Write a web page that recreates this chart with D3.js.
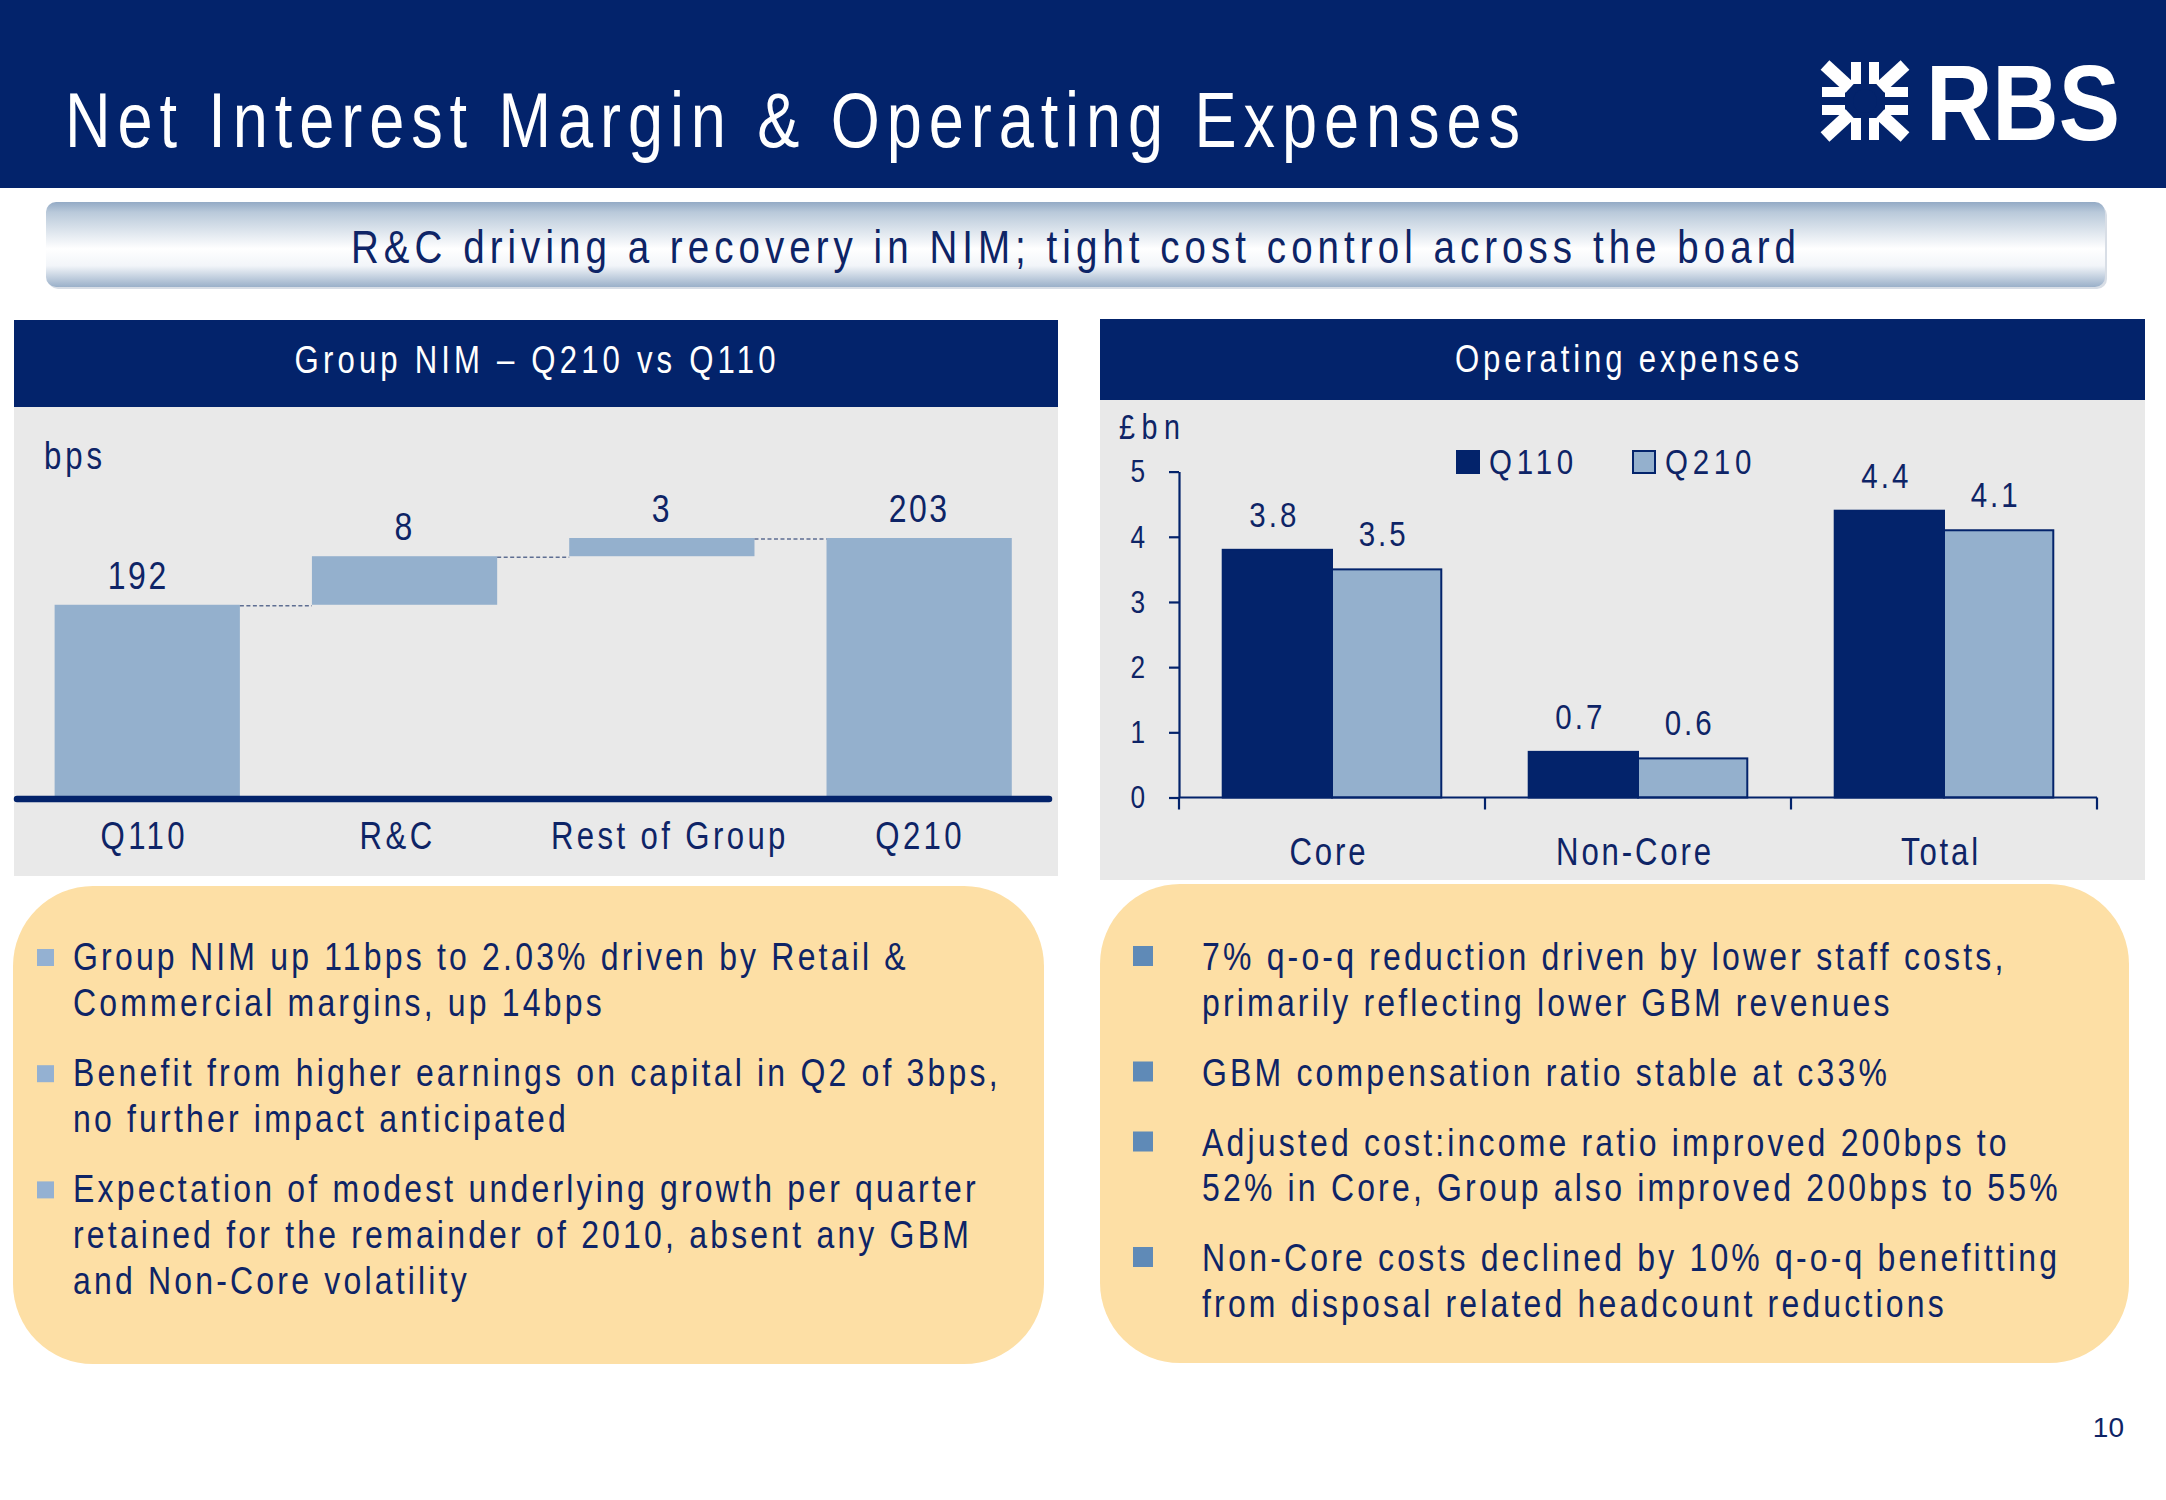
<!DOCTYPE html>
<html><head><meta charset="utf-8">
<script src="https://cdn.jsdelivr.net/npm/d3@7"></script>
<style>
html,body{margin:0;padding:0;background:#fff;}
svg text{font-family:"Liberation Sans",Arial,Helvetica,sans-serif;}
</style></head><body>
<svg id="c" width="2166" height="1500"></svg>
<script>
// ---------------- DATA ----------------
const pageTitle = "Net Interest Margin & Operating Expenses";
const subTitle = "R&C driving a recovery in NIM; tight cost control across the board";
const nimTitle = "Group NIM \u2013 Q210 vs Q110";
const nimUnit = "bps";
const nimCategories = ["Q110", "R&C", "Rest of Group", "Q210"];
const nimValues = [192, 8, 3, 203];
const nimKinds = ["total", "delta", "delta", "total"];

const opexTitle = "Operating expenses";
const opexUnit = "\u00a3bn";
const opexCategories = ["Core", "Non-Core", "Total"];
const opexSeries = ["Q110", "Q210"];
const opexQ110 = [3.8, 0.7, 4.4];
const opexQ210 = [3.5, 0.6, 4.1];
const opexTicks = [0, 1, 2, 3, 4, 5];

const leftBullets = [
  ["Group NIM up 11bps to 2.03% driven by Retail &", "Commercial margins, up 14bps"],
  ["Benefit from higher earnings on capital in Q2 of 3bps,", "no further impact anticipated"],
  ["Expectation of modest underlying growth per quarter", "retained for the remainder of 2010, absent any GBM", "and Non-Core volatility"]
];
const rightBullets = [
  ["7% q-o-q reduction driven by lower staff costs,", "primarily reflecting lower GBM revenues"],
  ["GBM compensation ratio stable at c33%"],
  ["Adjusted cost:income ratio improved 200bps to", "52% in Core, Group also improved 200bps to 55%"],
  ["Non-Core costs declined by 10% q-o-q benefitting", "from disposal related headcount reductions"]
];
const pageNumber = "10";

// ---------------- STYLE ----------------
const NAVY = "#03236B";
const TXT = "#0E2466";
const LIGHT = "#94B0CD";
const GRAY = "#E9E9E9";
const PEACH = "#FDDFA5";
const SX = 0.82;   // horizontal condensing, to mimic a narrow face

const svg = d3.select("#c");
const defs = svg.append("defs");

function at(sel, x, y) {
  return sel.attr("transform", (d, i) => {
    const xx = typeof x === "function" ? x(d, i) : x;
    const yy = typeof y === "function" ? y(d, i) : y;
    return `translate(${xx},${yy}) scale(${SX},1)`;
  });
}
function fit(sel, w) { return sel.attr("textLength", w / SX).attr("lengthAdjust", "spacing"); }
function spacingFor(sample, size, target) {
  const t = svg.append("text").attr("font-size", size).text(sample);
  const w = t.node().getComputedTextLength();
  t.remove();
  return (target / SX - w) / sample.length;
}

// ---------------- HEADER ----------------
svg.append("rect").attr("x", 0).attr("y", 0).attr("width", 2166).attr("height", 188).attr("fill", NAVY);
fit(at(svg.append("text"), 65, 147).attr("font-size", 77).attr("fill", "#fff").text(pageTitle), 1455);

// RBS logo
const logo = svg.append("g").attr("transform", "translate(1865,101)");
[[-1,-1],[1,-1],[1,1],[-1,1]].forEach(([sx, sy]) => {
  logo.append("line").attr("x1", sx * 15).attr("y1", sy * 13).attr("x2", sx * 40).attr("y2", sy * 36)
    .attr("stroke", "#fff").attr("stroke-width", 13);
});
[-1, 1].forEach(s => {
  [-9, 9].forEach(o => {
    logo.append("rect").attr("x", o - 5).attr("y", s < 0 ? -39 : 17).attr("width", 10).attr("height", 22).attr("fill", "#fff");
    logo.append("rect").attr("x", s < 0 ? -43 : 20).attr("y", o - 5).attr("width", 23).attr("height", 10).attr("fill", "#fff");
  });
});
logo.append("circle").attr("r", 12).attr("fill", NAVY);
svg.append("text").attr("transform", "translate(1926,140) scale(0.9,1)").attr("font-size", 108).attr("font-weight", "bold")
  .attr("fill", "#fff").attr("textLength", 194 / 0.9).attr("lengthAdjust", "spacingAndGlyphs").text("RBS");

// Subtitle banner
const g1 = defs.append("linearGradient").attr("id", "ban").attr("x1", 0).attr("x2", 0).attr("y1", 0).attr("y2", 1);
[["0%", "#93AAC5"], ["12%", "#B9C9DA"], ["55%", "#FFFFFF"], ["75%", "#F2F5F9"], ["100%", "#9AB0C9"]].forEach(([o, c]) =>
  g1.append("stop").attr("offset", o).attr("stop-color", c));
svg.append("rect").attr("x", 48).attr("y", 205).attr("width", 2059).attr("height", 84).attr("rx", 10).attr("fill", "#D8DEE6");
svg.append("rect").attr("x", 46).attr("y", 202).attr("width", 2059).attr("height", 85).attr("rx", 10).attr("fill", "url(#ban)");
fit(at(svg.append("text"), 1073.5, 263).attr("text-anchor", "middle").attr("font-size", 47).attr("fill", TXT).text(subTitle), 1445);

// ---------------- LEFT PANEL (NIM waterfall) ----------------
svg.append("rect").attr("x", 14).attr("y", 320).attr("width", 1044).attr("height", 87).attr("fill", NAVY);
svg.append("rect").attr("x", 14).attr("y", 407).attr("width", 1044).attr("height", 469).attr("fill", GRAY);
fit(at(svg.append("text"), 535, 373).attr("text-anchor", "middle").attr("font-size", 38).attr("fill", "#fff").text(nimTitle), 481);
fit(at(svg.append("text"), 44, 469).attr("font-size", 38).attr("fill", TXT).text(nimUnit), 58);

const xN = d3.scaleBand().domain(nimCategories).range([18.6, 1047.8]).paddingInner(0.28).paddingOuter(0.14);
const yN = d3.scaleLinear().domain([160, 203]).range([799, 538]);

let run = 0;
const wf = nimCategories.map((c, i) => {
  let lo, hi;
  if (nimKinds[i] === "total") { lo = yN.domain()[0]; hi = nimValues[i]; run = nimValues[i]; }
  else { lo = run; hi = run + nimValues[i]; run = hi; }
  return { c, v: nimValues[i], lo, hi, end: run };
});
const gN = svg.append("g");
gN.selectAll("rect.bar").data(wf).join("rect").attr("class", "bar")
  .attr("x", d => xN(d.c)).attr("width", xN.bandwidth())
  .attr("y", d => yN(d.hi)).attr("height", d => yN(d.lo) - yN(d.hi)).attr("fill", LIGHT);
gN.selectAll("line.conn").data(wf.slice(0, -1)).join("line").attr("class", "conn")
  .attr("x1", d => xN(d.c) + xN.bandwidth()).attr("x2", (d, i) => xN(wf[i + 1].c))
  .attr("y1", d => yN(d.end) + 1).attr("y2", d => yN(d.end) + 1)
  .attr("stroke", "#5E6E92").attr("stroke-width", 1.5).attr("stroke-dasharray", "4,2.5");
gN.append("line").attr("x1", 17).attr("x2", 1049).attr("y1", 799).attr("y2", 799)
  .attr("stroke", NAVY).attr("stroke-width", 6.5).attr("stroke-linecap", "round");
const lsNv = spacingFor("203", 39, 61);
at(gN.selectAll("text.val").data(wf).join("text").attr("class", "val"),
   d => xN(d.c) + xN.bandwidth() / 2 - (d.c === "Q110" ? 9 : 0), d => yN(d.hi) - 16)
  .attr("text-anchor", "middle").attr("font-size", 39).attr("letter-spacing", lsNv).attr("fill", TXT).text(d => d.v);
const lsNc = spacingFor("Rest of Group", 38, 238);
const catShift = { "Q110": -3, "R&C": -7, "Rest of Group": 8, "Q210": 1 };
at(gN.selectAll("text.cat").data(nimCategories).join("text").attr("class", "cat"),
   d => xN(d) + xN.bandwidth() / 2 + catShift[d], 849)
  .attr("text-anchor", "middle").attr("font-size", 38).attr("letter-spacing", lsNc).attr("fill", TXT).text(d => d);

// ---------------- RIGHT PANEL (Opex grouped bars) ----------------
svg.append("rect").attr("x", 1100).attr("y", 319).attr("width", 1045).attr("height", 81).attr("fill", NAVY);
svg.append("rect").attr("x", 1100).attr("y", 400).attr("width", 1045).attr("height", 480).attr("fill", GRAY);
fit(at(svg.append("text"), 1627, 372).attr("text-anchor", "middle").attr("font-size", 38).attr("fill", "#fff").text(opexTitle), 344);
fit(at(svg.append("text"), 1119, 439).attr("font-size", 35).attr("fill", TXT).text(opexUnit), 61);

const x0 = d3.scaleBand().domain(opexCategories).range([1179, 2097]).padding(0);
const x1 = d3.scaleBand().domain(opexSeries).range([0, x0.bandwidth()]).paddingInner(0).paddingOuter(0.4);
const yO = d3.scaleLinear().domain([0, 5]).range([797.5, 471.6]);
const seriesVals = { Q110: opexQ110, Q210: opexQ210 };
const seriesFill = { Q110: NAVY, Q210: LIGHT };

const gO = svg.append("g");
const bars = [];
opexCategories.forEach((c, i) => opexSeries.forEach(s => bars.push({ c, s, v: seriesVals[s][i] })));
gO.selectAll("rect.bar").data(bars).join("rect").attr("class", "bar")
  .attr("x", d => x0(d.c) + x1(d.s)).attr("width", x1.bandwidth())
  .attr("y", d => yO(d.v)).attr("height", d => yO(0) - yO(d.v))
  .attr("fill", d => seriesFill[d.s]).attr("stroke", NAVY).attr("stroke-width", 2);
const lsOv = spacingFor("3.8", 36, 50);
at(gO.selectAll("text.val").data(bars).join("text").attr("class", "val"),
   d => x0(d.c) + x1(d.s) + x1.bandwidth() / 2 - 3, d => yO(d.v) - 23)
  .attr("text-anchor", "middle").attr("font-size", 36).attr("letter-spacing", lsOv).attr("fill", TXT).text(d => d.v.toFixed(1));

// y axis
const yAxis = gO.append("g").attr("transform", "translate(1179,0)")
  .call(d3.axisLeft(yO).tickValues(opexTicks).tickSize(10).tickSizeOuter(0).tickPadding(24).tickFormat(d3.format("d")));
yAxis.select(".domain").attr("stroke", NAVY).attr("stroke-width", 2.2);
yAxis.selectAll(".tick line").attr("stroke", NAVY).attr("stroke-width", 2.2);
yAxis.selectAll(".tick text").attr("fill", TXT).attr("font-size", 32).attr("x", null)
  .attr("transform", `translate(-34,0) scale(${SX},1)`);
// x axis
gO.append("line").attr("x1", x0.range()[0]).attr("x2", x0.range()[1]).attr("y1", yO(0)).attr("y2", yO(0))
  .attr("stroke", NAVY).attr("stroke-width", 2.2);
const bounds = opexCategories.map(c => x0(c)).concat([x0.range()[1]]);
gO.selectAll("line.xt").data(bounds).join("line").attr("class", "xt")
  .attr("x1", d => d).attr("x2", d => d).attr("y1", yO(0)).attr("y2", yO(0) + 12)
  .attr("stroke", NAVY).attr("stroke-width", 2.2);
const lsOc = spacingFor("Non-Core", 38, 158);
at(gO.selectAll("text.cat").data(opexCategories).join("text").attr("class", "cat"),
   d => x0(d) + x0.bandwidth() / 2 - 3, 865)
  .attr("text-anchor", "middle").attr("font-size", 38).attr("letter-spacing", lsOc).attr("fill", TXT).text(d => d);
// legend
const lsLg = spacingFor("Q110", 36, 89);
const leg = gO.selectAll("g.leg").data(opexSeries).join("g").attr("class", "leg")
  .attr("transform", (d, i) => `translate(${1457 + i * 176},451)`);
leg.append("rect").attr("width", 22).attr("height", 22).attr("fill", d => seriesFill[d]).attr("stroke", NAVY).attr("stroke-width", 2);
at(leg.append("text"), 32, 23).attr("font-size", 36).attr("letter-spacing", lsLg).attr("fill", TXT).text(d => d);

// ---------------- BULLET BOXES ----------------
svg.append("rect").attr("x", 13).attr("y", 886).attr("width", 1031).attr("height", 478).attr("rx", 80).attr("fill", PEACH);
svg.append("rect").attr("x", 1100).attr("y", 884).attr("width", 1029).attr("height", 479).attr("rx", 80).attr("fill", PEACH);

function drawBullets(groups, opt) {
  const ls = spacingFor(opt.sample, opt.size, opt.sampleW);
  let y = opt.y0;
  groups.forEach(lines => {
    svg.append("rect").attr("x", opt.bx).attr("y", y - opt.bs - 4).attr("width", opt.bs).attr("height", opt.bs).attr("fill", opt.bc);
    lines.forEach((ln, li) => {
      at(svg.append("text"), opt.tx, y).attr("font-size", opt.size)
        .attr("letter-spacing", ls).attr("fill", TXT).text(ln);
      if (li < lines.length - 1) y += opt.lh;
    });
    y += opt.pg;
  });
}
drawBullets(leftBullets, { sample: leftBullets[0][0], size: 39, sampleW: 836, y0: 970, lh: 45.7, pg: 70.5, bx: 37, bs: 17, bc: "#94B1D2", tx: 73 });
drawBullets(rightBullets, { sample: rightBullets[2][1], size: 39, sampleW: 859, y0: 970, lh: 45.5, pg: 70, bx: 1133, bs: 20, bc: "#5F8AB7", tx: 1202 });

svg.append("text").attr("x", 2124).attr("y", 1437).attr("text-anchor", "end").attr("font-size", 28)
  .attr("fill", TXT).text(pageNumber);
</script>
</body></html>
